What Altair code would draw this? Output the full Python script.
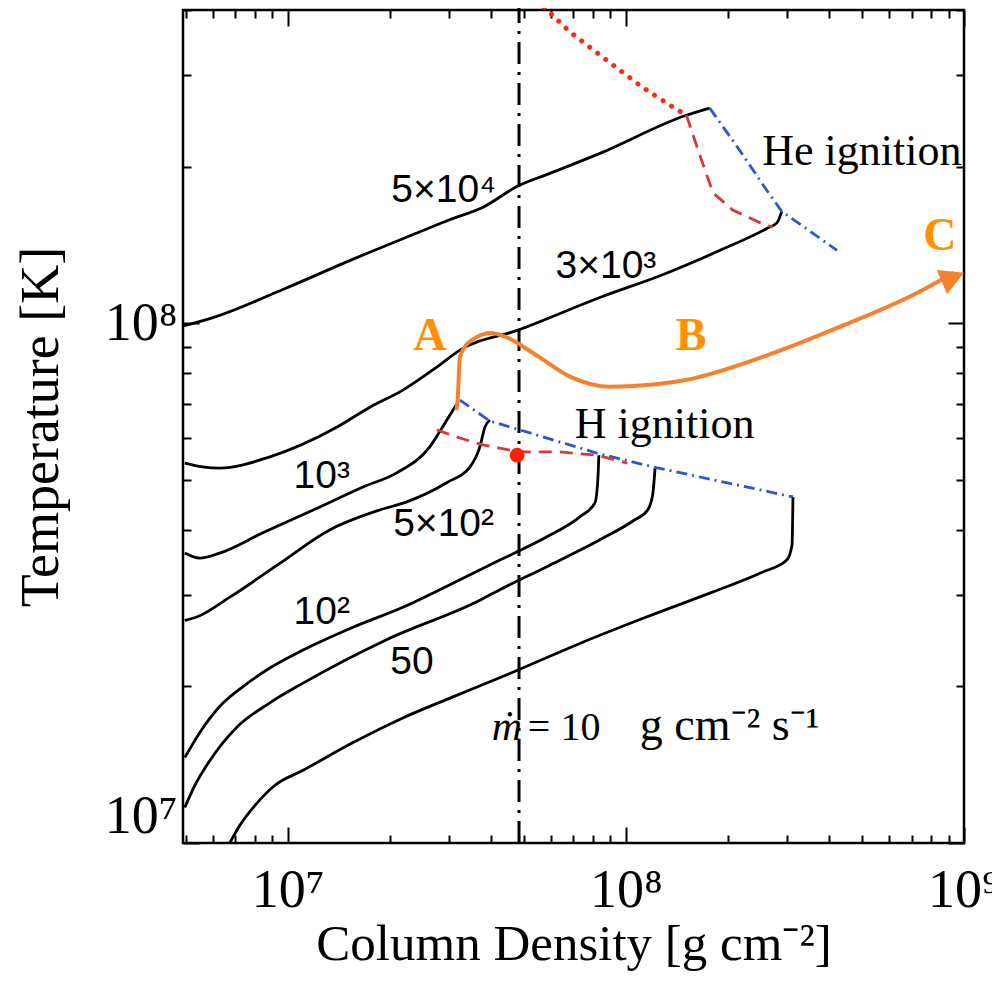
import altair as alt
import pandas as pd

# Column density [g cm^-2] and temperature [K] along each accretion-rate track
track_names = ['5×10⁴', '3×10³', '10³', '5×10²', '10²', '50', '10']
sigma_5e4 = [4.92e6, 6.17e6, 9.67e6, 1.53e7, 2.41e7, 3.01e7, 3.78e7, 4.76e7, 5.96e7, 8.38e7, 1.51e8, 1.77e8]
temp_5e4 = [9.87e7, 1.03e8, 1.16e8, 1.32e8, 1.49e8, 1.58e8, 1.67e8, 1.83e8, 1.94e8, 2.12e8, 2.51e8, 2.59e8]
sigma_3e3 = [4.96e6, 5.60e6, 6.29e6, 8.85e6, 1.40e7, 1.75e7, 2.19e7, 2.76e7, 3.23e7, 4.79e7, 8.38e7, 1.29e8, 1.90e8, 2.61e8, 2.80e8, 2.89e8]
temp_3e3 = [5.38e7, 5.29e7, 5.26e7, 5.53e7, 6.31e7, 6.89e7, 7.43e7, 8.23e7, 8.87e7, 9.69e7, 1.12e8, 1.24e8, 1.38e8, 1.52e8, 1.56e8, 1.64e8]
sigma_1e3 = [4.96e6, 5.49e6, 6.29e6, 8.44e6, 1.19e7, 1.67e7, 2.10e7, 2.63e7, 2.87e7, 3.08e7, 3.18e7]
temp_1e3 = [3.61e7, 3.53e7, 3.61e7, 3.95e7, 4.37e7, 4.84e7, 5.15e7, 5.78e7, 6.31e7, 6.80e7, 7.02e7]
sigma_5e2 = [4.96e6, 5.38e6, 6.74e6, 9.47e6, 1.33e7, 1.87e7, 2.25e7, 2.95e7, 3.46e7, 3.70e7, 3.83e7, 3.96e7]
temp_5e2 = [2.68e7, 2.72e7, 2.97e7, 3.45e7, 4.00e7, 4.37e7, 4.53e7, 4.93e7, 5.29e7, 5.78e7, 6.31e7, 6.51e7]
sigma_1e2 = [4.96e6, 5.49e6, 6.29e6, 7.46e6, 8.85e6, 1.11e7, 1.56e7, 2.19e7, 3.08e7, 4.24e7, 5.84e7, 7.31e7, 8.10e7, 8.26e7, 8.32e7]
temp_1e2 = [1.46e7, 1.63e7, 1.83e7, 2.01e7, 2.17e7, 2.35e7, 2.60e7, 2.84e7, 3.16e7, 3.50e7, 3.88e7, 4.24e7, 4.51e7, 4.99e7, 5.57e7]
sigma_50 = [4.96e6, 5.31e6, 5.88e6, 7.07e6, 8.85e6, 1.11e7, 1.96e7, 3.70e7, 4.24e7, 5.84e7, 8.38e7, 1.06e8, 1.16e8, 1.20e8, 1.22e8]
temp_50 = [1.17e7, 1.29e7, 1.44e7, 1.67e7, 1.86e7, 2.03e7, 2.46e7, 2.93e7, 3.07e7, 3.40e7, 3.83e7, 4.18e7, 4.37e7, 4.67e7, 5.26e7]
sigma_10 = [6.74e6, 7.21e6, 7.99e6, 9.15e6, 1.11e7, 1.56e7, 2.19e7, 3.08e7, 4.63e7, 7.31e7, 1.15e8, 1.81e8, 2.54e8, 2.99e8, 3.10e8, 3.12e8]
temp_10 = [1.00e7, 1.08e7, 1.18e7, 1.29e7, 1.38e7, 1.56e7, 1.74e7, 1.91e7, 2.13e7, 2.42e7, 2.72e7, 3.04e7, 3.32e7, 3.50e7, 3.74e7, 4.63e7]

# ignition boundaries
h_ign_blue_sigma = [3.23e7, 3.96e7, 4.86e7, 8.21e7, 1.20e8, 3.12e8]
h_ign_blue_temp = [7.11e7, 6.48e7, 6.23e7, 5.62e7, 5.29e7, 4.63e7]
h_ign_red_sigma = [2.76e7, 3.23e7, 3.78e7, 4.86e7, 6.38e7, 8.21e7, 1.01e8]
h_ign_red_temp = [6.23e7, 6.01e7, 5.83e7, 5.65e7, 5.65e7, 5.57e7, 5.38e7]
he_ign_blue_sigma = [1.77e8, 2.17e8, 2.61e8, 2.89e8, 4.21e8]
he_ign_blue_temp = [2.59e8, 2.15e8, 1.80e8, 1.64e8, 1.38e8]
he_ign_red_sigma = [1.51e8, 1.66e8, 1.81e8, 2.07e8, 2.49e8, 2.72e8]
he_ign_red_temp = [2.51e8, 2.09e8, 1.78e8, 1.65e8, 1.56e8, 1.53e8]
dotted_sigma = [5.46e7, 6.83e7, 8.79e7, 1.12e8, 1.38e8, 1.51e8]
dotted_temp = [4.18e8, 3.63e8, 3.20e8, 2.84e8, 2.60e8, 2.51e8]

# orange A -> B -> C path
path_sigma = [3.15e7, 3.18e7, 3.23e7, 3.50e7, 3.99e7, 4.42e7, 5.31e7, 6.88e7, 8.97e7, 1.16e8, 1.50e8, 2.54e8, 4.27e8, 7.21e8, 9.34e8]
path_temp = [6.80e7, 7.11e7, 8.61e7, 9.27e7, 9.57e7, 9.40e7, 8.76e7, 7.87e7, 7.54e7, 7.60e7, 7.77e7, 8.61e7, 9.82e7, 1.14e8, 1.25e8]
arrow_tip_sigma = [1.0e9]
arrow_tip_temp = [1.25e8]

# vertical reference column and the marked point
column_sigma = 4.83e7
column_temp_range = [1.0e7, 4.18e8]
point_sigma = [4.77e7]
point_temp = [5.57e7]

# labels
curve_label_text = ['5×10⁴', '3×10³', '10³', '5×10²', '10²', '50']
curve_label_sigma = [2.89e7, 8.73e7, 1.26e7, 2.89e7, 1.26e7, 2.33e7]
curve_label_temp = [1.80e8, 1.29e8, 5.08e7, 4.11e7, 2.78e7, 2.23e7]
ign_text = ['He ignition', 'H ignition']
ign_sigma = [2.53e8, 7.06e7]
ign_temp = [2.01e8, 6.01e7]
letter_text = ['A', 'B', 'C']
letter_sigma = [2.63e7, 1.56e8, 8.49e8]
letter_temp = [8.87e7, 8.87e7, 1.38e8]
mdot_sigma = [4.01e7, 5.13e7, 1.10e8]
mdot_temp = 1.58e7

x_ticks = [5e6, 6e6, 7e6, 8e6, 9e6, 1e7, 2e7, 3e7, 4e7, 5e7, 6e7, 7e7, 8e7, 9e7,
           1e8, 2e8, 3e8, 4e8, 5e8, 6e8, 7e8, 8e8, 9e8, 1e9]
y_ticks = [1e7, 2e7, 3e7, 4e7, 5e7, 6e7, 7e7, 8e7, 9e7, 1e8, 2e8, 3e8, 4e8]
x_decades = [1e7, 1e8, 1e9]
x_decade_text = ['10⁷', '10⁸', '10⁹']
y_decades = [1e7, 1e8]
y_decade_text = ['10⁷', '10⁸']

SERIF = 'Liberation Serif'
SANS = 'Liberation Sans'
BLUE = '#2f55d4'
RED = '#d9363e'
ORANGE = '#f5812f'

x_scale = alt.Scale(type='log', domain=[4.9e6, 1e9], nice=False)
y_scale = alt.Scale(type='log', domain=[1e7, 4e8], nice=False)


def label_expr(values, texts):
    parts = [f"abs(datum.value - {v:g}) < 1 ? '{t}'" for v, t in zip(values, texts)]
    return ' : '.join(parts) + " : ''"


minor_test = 'abs(log(datum.value) / LN10 - round(log(datum.value) / LN10)) > 0.001'


def frame_axis(orient, values, **kw):
    # inward ticks: axis pulled inside the frame, minor ticks dashed so only the outer half shows
    return alt.Axis(orient=orient, values=values, offset=-16, tickSize=16, tickWidth=2,
                    tickColor='black',
                    tickDash={'condition': {'test': minor_test, 'value': [0, 8, 8]}, 'value': []},
                    domain=False, grid=False, **kw)


def pos(axis_x=None, axis_y=None, fx='sigma', fy='T'):
    return dict(x=alt.X(f'{fx}:Q', scale=x_scale, axis=axis_x),
                y=alt.Y(f'{fy}:Q', scale=y_scale, axis=axis_y))


def line_frame(sigmas, temps, name):
    return pd.DataFrame({'sigma': sigmas, 'T': temps, 'name': name, 'i': range(len(sigmas))})


tracks = pd.concat([
    line_frame(s, t, n) for s, t, n in zip(
        [sigma_5e4, sigma_3e3, sigma_1e3, sigma_5e2, sigma_1e2, sigma_50, sigma_10],
        [temp_5e4, temp_3e3, temp_1e3, temp_5e2, temp_1e2, temp_50, temp_10],
        track_names)
])

bottom_axis = frame_axis('bottom', x_ticks, labelExpr=label_expr(x_decades, x_decade_text),
                         labelFont=SERIF, labelFontSize=54, labelColor='black', labelPadding=20,
                         labelFlush=False, labelOverlap=False,
                         title='Column Density [g cm⁻²]', titleFont=SERIF, titleFontSize=51,
                         titleFontWeight='normal', titleColor='black', titlePadding=2)
left_axis = frame_axis('left', y_ticks, labelExpr=label_expr(y_decades, y_decade_text),
                       labelFont=SERIF, labelFontSize=54, labelColor='black', labelPadding=6,
                       labelFlush=True, labelOverlap=False,
                       title='Temperature [K]', titleFont=SERIF, titleFontSize=54,
                       titleFontWeight='normal', titleColor='black', titlePadding=36)
top_axis = frame_axis('top', x_ticks, labels=False, title=None)
right_axis = frame_axis('right', y_ticks, labels=False, title=None)

curves = alt.Chart(tracks).mark_line(color='black', strokeWidth=2.8, interpolate='monotone').encode(
    **pos(bottom_axis, left_axis), detail='name:N', order='i:Q')

frame = alt.Chart(tracks).mark_point(opacity=0).encode(**pos(top_axis, right_axis))

blue_lines = alt.Chart(pd.concat([
    line_frame(h_ign_blue_sigma, h_ign_blue_temp, 'H'),
    line_frame(he_ign_blue_sigma, he_ign_blue_temp, 'He'),
])).mark_line(color=BLUE, strokeWidth=2.8, strokeDash=[11, 5, 2, 5]).encode(
    **pos(), detail='name:N', order='i:Q')

red_lines = alt.Chart(pd.concat([
    line_frame(h_ign_red_sigma, h_ign_red_temp, 'H'),
    line_frame(he_ign_red_sigma, he_ign_red_temp, 'He'),
])).mark_line(color=RED, strokeWidth=2.8, strokeDash=[13, 8]).encode(
    **pos(), detail='name:N', order='i:Q')

dotted = alt.Chart(line_frame(dotted_sigma, dotted_temp, 'dot')).mark_line(
    color='#ff2a10', strokeWidth=5, strokeDash=[0.1, 10], strokeCap='round').encode(
    **pos(), order='i:Q')

column = alt.Chart(pd.DataFrame({'sigma': [column_sigma], 'T': [column_temp_range[0]],
                                 'T2': [column_temp_range[1]]})).mark_rule(
    color='black', strokeWidth=3, strokeDash=[22, 8, 3, 8]).encode(
    **pos(), y2='T2:Q')

point = alt.Chart(pd.DataFrame({'sigma': point_sigma, 'T': point_temp})).mark_circle(
    color='#ff2200', size=220, opacity=1).encode(**pos())

path = alt.Chart(line_frame(path_sigma, path_temp, 'path')).mark_line(
    color=ORANGE, strokeWidth=4, interpolate='monotone').encode(**pos(), order='i:Q')

arrow = alt.Chart(pd.DataFrame({'sigma': arrow_tip_sigma, 'T': arrow_tip_temp})).mark_point(
    shape='M0,0 L0.55,1 L-0.55,1 Z', size=2300, angle=67, filled=True, opacity=1,
    color=ORANGE, strokeWidth=0).encode(**pos())

curve_labels = alt.Chart(pd.DataFrame({'sigma': curve_label_sigma, 'T': curve_label_temp,
                                       'label': curve_label_text})).mark_text(
    font=SANS, fontSize=39, color='black', align='center', baseline='middle').encode(
    **pos(), text='label:N')

ign_labels = alt.Chart(pd.DataFrame({'sigma': ign_sigma, 'T': ign_temp, 'label': ign_text})).mark_text(
    font=SERIF, fontSize=44, color='black', align='left', baseline='alphabetic').encode(
    **pos(), text='label:N')

letters = alt.Chart(pd.DataFrame({'sigma': letter_sigma, 'T': letter_temp,
                                  'label': letter_text})).mark_text(
    font=SERIF, fontSize=46, fontWeight='bold', color='#ff9000', align='center',
    baseline='alphabetic').encode(**pos(), text='label:N')

mdot_df = pd.DataFrame({'sigma': mdot_sigma, 'T': mdot_temp,
                        'label': ['ṁ', '= 10', 'g cm⁻² s⁻¹']})
mdot_m = alt.Chart(mdot_df.iloc[[0]]).mark_text(
    font=SERIF, fontSize=42, fontStyle='italic', color='black', align='left',
    baseline='alphabetic').encode(**pos(), text='label:N')
mdot_eq = alt.Chart(mdot_df.iloc[[1]]).mark_text(
    font=SERIF, fontSize=40, color='black', align='left', baseline='alphabetic').encode(
    **pos(), text='label:N')
mdot_unit = alt.Chart(mdot_df.iloc[[2]]).mark_text(
    font=SERIF, fontSize=46, color='black', align='left', baseline='alphabetic').encode(
    **pos(), text='label:N')

chart = alt.layer(
    curves, frame, column, blue_lines, red_lines, dotted, point, path, arrow,
    curve_labels, ign_labels, letters, mdot_m, mdot_eq, mdot_unit
).resolve_axis(
    x='independent', y='independent'
).properties(
    width=781, height=833, autosize='none',
    padding={'left': 175, 'top': 2, 'right': 28, 'bottom': 130},
    background='white'
).configure_view(
    stroke='black', strokeWidth=2.5
)

chart.save('out.html', embed_options={'renderer': 'svg', 'actions': False})
